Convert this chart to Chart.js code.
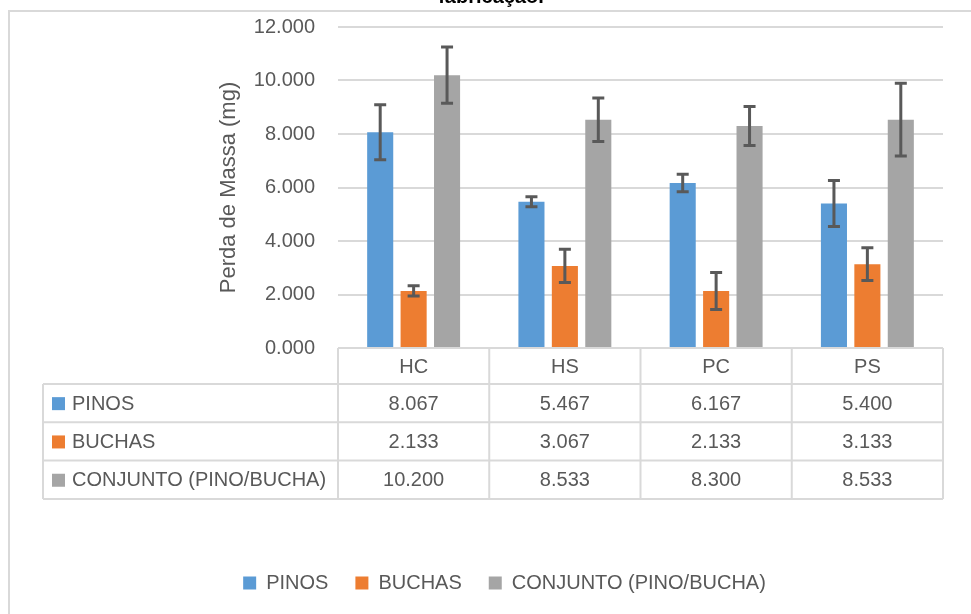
<!DOCTYPE html>
<html>
<head>
<meta charset="utf-8">
<script src="https://cdn.jsdelivr.net/npm/chart.js@4/dist/chart.umd.min.js"></script>
<style>
  html, body { margin: 0; padding: 0; background: #fff; }
  canvas { display: block; }
</style>
</head>
<body>
<canvas id="myChart" width="971" height="614"></canvas>
<script>
// chart data
const categories = ['HC', 'HS', 'PC', 'PS'];
const seriesNames = ['PINOS', 'BUCHAS', 'CONJUNTO (PINO/BUCHA)'];
const pinos = [8.067, 5.467, 6.167, 5.400];
const buchas = [2.133, 3.067, 2.133, 3.133];
const conjunto = [10.200, 8.533, 8.300, 8.533];
// error bar sizes
const pinosErr = [1.03, 0.19, 0.33, 0.86];
const buchasErr = [0.19, 0.62, 0.69, 0.61];
const conjuntoErr = [1.05, 0.81, 0.73, 1.36];
const yMax = 12;
const yStep = 2;

const FONT = "'Liberation Sans', Arial, sans-serif";
const TEXT = '#595959';
const LINE = '#d9d9d9';
const colors = ['#5B9BD5', '#ED7D31', '#A5A5A5'];

// error bars drawn over the bars
const errorBars = {
    id: 'errorBars',
    afterDatasetsDraw(chart) {
        const ctx = chart.ctx;
        const y = chart.scales.y;
        ctx.save();
        ctx.strokeStyle = '#595959';
        ctx.lineWidth = 3;
        chart.data.datasets.forEach((ds, i) => {
            chart.getDatasetMeta(i).data.forEach((bar, j) => {
                const top = y.getPixelForValue(ds.data[j] + ds.err[j]);
                const bot = y.getPixelForValue(ds.data[j] - ds.err[j]);
                ctx.beginPath();
                ctx.moveTo(bar.x, top); ctx.lineTo(bar.x, bot);
                ctx.moveTo(bar.x - 6, top); ctx.lineTo(bar.x + 6, top);
                ctx.moveTo(bar.x - 6, bot); ctx.lineTo(bar.x + 6, bot);
                ctx.stroke();
            });
        });
        ctx.restore();
    }
};

// outer frame, cut-off title and the data table under the plot
const frameAndTable = {
    id: 'frameAndTable',
    beforeDraw(chart) {
        const ctx = chart.ctx;
        ctx.save();
        ctx.strokeStyle = LINE;
        ctx.lineWidth = 2;
        ctx.strokeRect(9, 11, 1000, 700);
        ctx.fillStyle = '#000';
        ctx.font = 'bold 20px ' + FONT;
        ctx.textAlign = 'center';
        ctx.textBaseline = 'alphabetic';
        ctx.fillText('fabricação.', 491, 3);
        ctx.restore();
    },
    afterDraw(chart) {
        const ctx = chart.ctx;
        const area = chart.chartArea;
        const n = categories.length;
        const colW = (area.right - area.left) / n;
        const tableLeft = 43;
        const headTop = area.bottom;
        const headH = 36;
        const rowH = 38.3;
        const rows = [pinos, buchas, conjunto];
        const bottom = headTop + headH + rowH * rows.length;

        ctx.save();
        ctx.strokeStyle = LINE;
        ctx.lineWidth = 2;
        ctx.beginPath();
        // header row
        ctx.moveTo(area.left, headTop); ctx.lineTo(area.right, headTop);
        for (let r = 0; r <= rows.length; r++) {
            const yy = headTop + headH + r * rowH;
            ctx.moveTo(tableLeft, yy); ctx.lineTo(area.right, yy);
        }
        for (let c = 0; c <= n; c++) {
            const xx = area.left + c * colW;
            ctx.moveTo(xx, headTop); ctx.lineTo(xx, bottom);
        }
        ctx.moveTo(tableLeft, headTop + headH); ctx.lineTo(tableLeft, bottom);
        ctx.stroke();

        ctx.font = '20px ' + FONT;
        ctx.fillStyle = TEXT;
        ctx.textBaseline = 'middle';
        ctx.textAlign = 'center';
        categories.forEach((cat, c) => {
            ctx.fillText(cat, area.left + (c + 0.5) * colW, headTop + headH / 2 + 1);
        });
        rows.forEach((vals, r) => {
            const cy = headTop + headH + (r + 0.5) * rowH + 1;
            vals.forEach((v, c) => {
                ctx.textAlign = 'center';
                ctx.fillText(v.toFixed(3), area.left + (c + 0.5) * colW, cy);
            });
            ctx.fillStyle = colors[r];
            ctx.fillRect(52, cy - 7, 13, 13);
            ctx.fillStyle = TEXT;
            ctx.textAlign = 'left';
            ctx.fillText(seriesNames[r], 72, cy);
        });
        ctx.restore();
    }
};

const ctx = document.getElementById('myChart').getContext('2d');
new Chart(ctx, {
    type: 'bar',
    data: {
        labels: categories,
        datasets: [
            { label: seriesNames[0], data: pinos, err: pinosErr, backgroundColor: colors[0] },
            { label: seriesNames[1], data: buchas, err: buchasErr, backgroundColor: colors[1] },
            { label: seriesNames[2], data: conjunto, err: conjuntoErr, backgroundColor: colors[2] },
        ],
    },
    options: {
        responsive: false,
        animation: false,
        layout: { padding: { left: 66, right: 28, top: 27, bottom: 11 } },
        datasets: { bar: { categoryPercentage: 0.663, barPercentage: 0.78 } },
        plugins: {
            tooltip: { enabled: false },
            legend: {
                position: 'bottom',
                labels: {
                    boxWidth: 13, boxHeight: 13, padding: 27,
                    color: TEXT, font: { family: FONT, size: 20 },
                },
            },
        },
        scales: {
            x: {
                grid: { display: false },
                border: { display: false },
                ticks: { display: false },
                afterFit: s => { s.height = 198; },
            },
            y: {
                min: 0, max: yMax,
                ticks: {
                    stepSize: yStep, padding: 23, color: TEXT,
                    font: { family: FONT, size: 20 },
                    callback: v => v.toFixed(3),
                },
                grid: { color: LINE, lineWidth: 2, drawTicks: false },
                border: { display: false },
                title: {
                    display: true, text: 'Perda de Massa (mg)', color: TEXT,
                    font: { family: FONT, size: 22 },
                    padding: { top: 150, bottom: 0 },
                },
                afterFit: s => { s.width = 272; s.paddingTop = 0; },
            },
        },
    },
    plugins: [errorBars, frameAndTable],
});
</script>
</body>
</html>
